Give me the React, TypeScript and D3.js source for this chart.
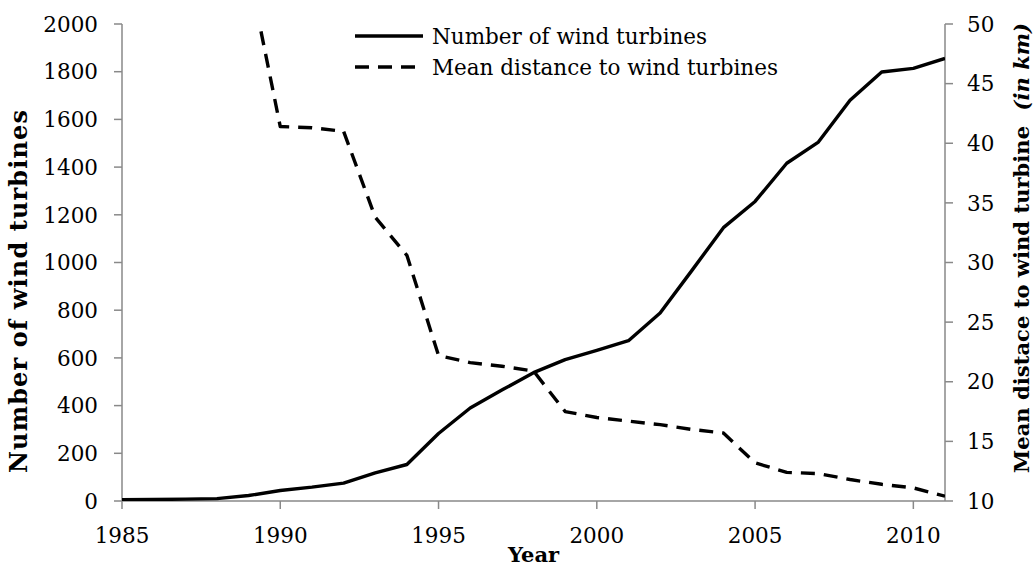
import React from "react";
import * as d3 from "d3";

const years = [1985, 1986, 1987, 1988, 1989, 1990, 1991, 1992, 1993, 1994, 1995, 1996, 1997, 1998, 1999, 2000, 2001, 2002, 2003, 2004, 2005, 2006, 2007, 2008, 2009, 2010, 2011];
const turbines = [5, 6, 8, 10, 23, 44, 58, 75, 118, 153, 283, 390, 465, 538, 593, 632, 672, 788, 966, 1146, 1256, 1416, 1505, 1680, 1799, 1814, 1856];
const distYears = [1989, 1990, 1991, 1992, 1993, 1994, 1995, 1996, 1997, 1998, 1999, 2000, 2001, 2002, 2003, 2004, 2005, 2006, 2007, 2008, 2009, 2010, 2011];
const distance = [54.5, 41.4, 41.3, 41.0, 33.8, 30.6, 22.2, 21.6, 21.3, 20.9, 17.5, 17.0, 16.7, 16.4, 16.0, 15.7, 13.2, 12.4, 12.3, 11.8, 11.4, 11.1, 10.4];
const xTicks = [1985, 1990, 1995, 2000, 2005, 2010];
const leftTicks = [0, 200, 400, 600, 800, 1000, 1200, 1400, 1600, 1800, 2000];
const rightTicks = [10, 15, 20, 25, 30, 35, 40, 45, 50];
const legendLabels = ["Number of wind turbines", "Mean distance to wind turbines"];

const W = 1034;
const H = 566;
const left = 122;
const right = 945;
const top = 24;
const bottom = 501;
const FONT = "'DejaVu Serif', serif";
const AXIS = "#898989";
const FS = 21.5;
const TFS = 21;

export default function App() {
  const x = d3.scaleLinear().domain([1985, 2011]).range([left, right]);
  const yL = d3.scaleLinear().domain([0, 2000]).range([bottom, top]);
  const yR = d3.scaleLinear().domain([10, 50]).range([bottom, top]);
  const solid = d3.line<number>().x((_, i) => x(years[i])).y((d) => yL(d))(turbines) || "";
  const dashed = d3.line<number>().x((_, i) => x(distYears[i])).y((d) => yR(d))(distance) || "";
  const dash = "14,9";
  const sw = 3.4;

  return (
    <svg width={W} height={H} style={{ position: "absolute", left: 0, top: 0, background: "#fff" }} fontFamily={FONT}>
      <defs>
        <clipPath id="plot">
          <rect x={left} y={top} width={right - left} height={bottom - top} />
        </clipPath>
      </defs>
      {/* axes */}
      <line x1={left} x2={left} y1={top} y2={bottom} stroke={AXIS} strokeWidth={1.5} />
      <line x1={right} x2={right} y1={top} y2={bottom} stroke={AXIS} strokeWidth={1.5} />
      <line x1={left} x2={right} y1={bottom} y2={bottom} stroke={AXIS} strokeWidth={1.5} />
      {leftTicks.map((t) => (
        <g key={"l" + t}>
          <line x1={left - 8} x2={left} y1={yL(t)} y2={yL(t)} stroke={AXIS} strokeWidth={1.5} />
          <text x={98} y={yL(t)} dy="0.36em" textAnchor="end" fontSize={FS}>{t}</text>
        </g>
      ))}
      {rightTicks.map((t) => (
        <g key={"r" + t}>
          <line x1={right} x2={right + 8} y1={yR(t)} y2={yR(t)} stroke={AXIS} strokeWidth={1.5} />
          <text x={967} y={yR(t)} dy="0.36em" textAnchor="start" fontSize={FS}>{t}</text>
        </g>
      ))}
      {xTicks.map((t) => (
        <g key={"x" + t}>
          <line x1={x(t)} x2={x(t)} y1={bottom} y2={bottom + 8} stroke={AXIS} strokeWidth={1.5} />
          <text x={x(t)} y={543} textAnchor="middle" fontSize={FS}>{t}</text>
        </g>
      ))}
      {/* titles */}
      <text x={(left + right) / 2} y={562} textAnchor="middle" fontSize={TFS} fontWeight="bold">Year</text>
      <text transform={`translate(27,291.5) rotate(-90)`} textAnchor="middle" fontSize={24} fontWeight="bold" textLength={363} lengthAdjust="spacing">Number of wind turbines</text>
      <text transform={`translate(1029,248) rotate(-90)`} textAnchor="middle" fontSize={TFS} fontWeight="bold" textLength={450} lengthAdjust="spacing">
        Mean distace to wind turbine <tspan fontStyle="italic" dx={8}>(in km)</tspan>
      </text>
      {/* lines */}
      <g clipPath="url(#plot)">
        <path d={solid} fill="none" stroke="#000" strokeWidth={sw} strokeLinejoin="round" />
        <path d={dashed} fill="none" stroke="#000" strokeWidth={sw} strokeDasharray={dash} strokeDashoffset={6.7} strokeLinejoin="round" />
      </g>
      {/* legend */}
      <line x1={355} x2={423} y1={36} y2={36} stroke="#000" strokeWidth={sw} />
      <text x={432} y={36} dy="0.36em" fontSize={FS}>{legendLabels[0]}</text>
      <line x1={355} x2={423} y1={67} y2={67} stroke="#000" strokeWidth={sw} strokeDasharray={dash} />
      <text x={432} y={67} dy="0.36em" fontSize={FS}>{legendLabels[1]}</text>
    </svg>
  );
}
